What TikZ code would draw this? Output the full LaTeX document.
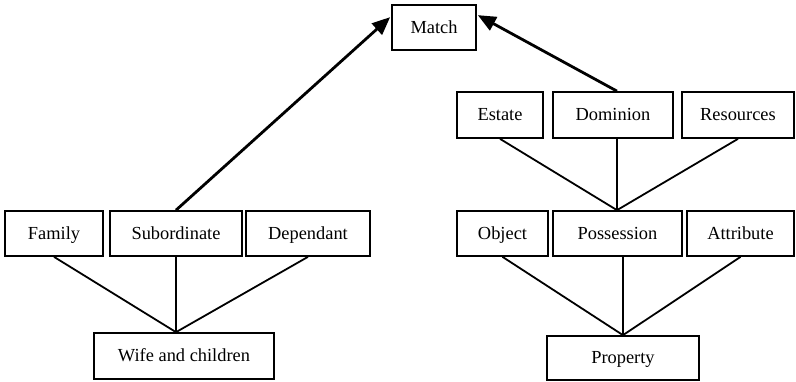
\documentclass[tikz,border=0pt]{standalone}
\usepackage{fontspec}
\setmainfont{Liberation Serif}
\usetikzlibrary{arrows.meta,calc}
\newcommand\boxfont{\fontsize{18.4}{22}\selectfont}
\tikzset{
  box/.style={draw, line width=1.7pt, inner sep=0pt, font=\boxfont,
    text height=13pt, text depth=2pt, minimum height=45pt},
  link/.style={line width=1.8pt},
  arr/.style={line width=2.8pt, -{Triangle[length=18pt,width=15pt]}}
}
\begin{document}
\begin{tikzpicture}[x=1pt,y=-1pt]
\useasboundingbox (0,0) rectangle (796,381);

% top node
\node[box, minimum width=84pt] (match) at (434,27.5) {Match};

% right side: upper row
\node[box, minimum width=86pt, minimum height=46pt] (estate) at (500,115) {Estate};
\node[box, minimum width=120pt, minimum height=46pt] (dominion) at (613,115) {Dominion};
\node[box, minimum width=112pt, minimum height=46pt] (resources) at (738,115) {Resources};

% right side: middle row
\node[box, minimum width=91pt] (object) at (502.5,233.5) {Object};
\node[box, minimum width=129pt] (possession) at (617.5,233.5) {Possession};
\node[box, minimum width=107pt] (attribute) at (740.5,233.5) {Attribute};

% right side: bottom
\node[box, minimum width=152pt, minimum height=44pt] (property) at (623,358) {Property};

% left side: middle row
\node[box, minimum width=98pt] (family) at (54,233.5) {Family};
\node[box, minimum width=132pt] (subordinate) at (176,233.5) {Subordinate};
\node[box, minimum width=124pt] (dependant) at (308,233.5) {Dependant};

% left side: bottom
\node[box, minimum width=180pt, minimum height=46pt] (wife) at (184,356) {Wife and children};

% hubs where the fan lines meet
\coordinate (hubL) at (subordinate.south |- wife.north);
\coordinate (hubR) at ($(possession.north)+(-0.5,0)$);
\coordinate (hubP) at (property.north);

% left fan
\draw[link] (family.south) -- (hubL);
\draw[link] (subordinate.south) -- (hubL);
\draw[link] (dependant.south) -- (hubL);

% right upper fan
\draw[link] (estate.south) -- (hubR);
\draw[link] (dominion.south -| hubR) -- (hubR);
\draw[link] (resources.south) -- (hubR);

% right lower fan
\draw[link] (object.south) -- (hubP);
\draw[link] (possession.south -| hubP) -- (hubP);
\draw[link] (attribute.south) -- (hubP);

% arrows into Match
\draw[arr] (subordinate.north) -- ($(match.north west)+(-1,13)$);
\draw[arr] (dominion.north -| hubR) -- ($(match.north east)+(1,11)$);
\end{tikzpicture}
\end{document}
